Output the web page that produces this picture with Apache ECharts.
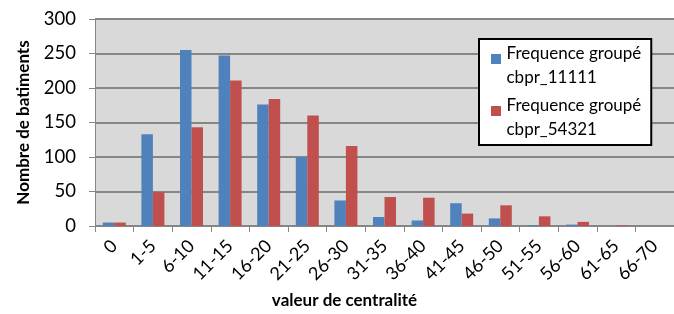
<!DOCTYPE html>
<html>
<head>
<meta charset="utf-8">
<script src="https://cdn.jsdelivr.net/npm/echarts@6/dist/echarts.min.js"></script>
<style>
html,body{margin:0;padding:0;background:#fff;}
#chart{width:674px;height:314px;}
</style>
</head>
<body>
<div id="chart"></div>
<script>
// classes de centralite
var categories = ['0', '1-5', '6-10', '11-15', '16-20', '21-25', '26-30', '31-35',
  '36-40', '41-45', '46-50', '51-55', '56-60', '61-65', '66-70'];
var freq11111 = [5, 133, 255, 247, 176, 100, 37, 13, 8, 33, 11, 1, 2, 0, 0];
var freq54321 = [5, 49, 143, 211, 184, 160, 116, 42, 41, 18, 30, 14, 6, 1, 0];
var yTicks = [0, 50, 100, 150, 200, 250, 300];

var nom1 = 'Frequence groupé cbpr_11111';
var nom2 = 'Frequence groupé cbpr_54321';
var police = 'Lato';

var chartDom = document.getElementById('chart');
var myChart = echarts.init(chartDom);
var option = {
  animation: false,
  textStyle: { fontFamily: police },
  grid: {
    left: 95, top: 19, right: -11, bottom: 85,
    show: true, backgroundColor: '#d9d9d9', borderWidth: 0
  },
  legend: {
    orient: 'vertical',
    left: 479, top: 39,
    padding: [3, 10, 3, 12],
    backgroundColor: '#fff',
    borderColor: '#000', borderWidth: 2,
    itemWidth: 11, itemHeight: 24, itemGap: 4,
    icon: 'path://M0,0L10,0L10,10L0,10Z M0,24L0.01,24L0.01,24.01Z',
    formatter: function (name) {
      return name.replace(' cbpr', '\ncbpr');
    },
    textStyle: { fontFamily: police, fontSize: 17, lineHeight: 24, color: '#000' }
  },
  xAxis: {
    type: 'category',
    data: categories,
    name: 'valeur de centralité',
    nameLocation: 'middle',
    nameGap: 66,
    nameTextStyle: { fontFamily: police, fontSize: 17, fontWeight: 'bold', color: '#000', padding: [0, 80, 0, 0] },
    axisLine: { lineStyle: { color: '#868686', width: 1 } },
    axisTick: { show: true, length: 6, lineStyle: { color: '#868686' } },
    axisLabel: { rotate: 45, margin: 17, fontSize: 18, color: '#000', interval: 0 }
  },
  yAxis: {
    type: 'value',
    min: yTicks[0], max: yTicks[yTicks.length - 1], interval: 50,
    name: 'Nombre de batiments',
    nameLocation: 'middle',
    nameGap: 63,
    nameTextStyle: { fontFamily: police, fontSize: 17, fontWeight: 'bold', color: '#000' },
    axisLine: { show: true, lineStyle: { color: '#868686', width: 1 } },
    axisTick: { show: true, length: 6, lineStyle: { color: '#868686' } },
    axisLabel: { margin: 19, fontSize: 18.5, color: '#000' },
    splitLine: { show: true, lineStyle: { color: '#868686', width: 2 } }
  },
  series: [
    {
      name: nom1, type: 'bar', data: freq11111,
      barWidth: 11.5, barGap: '0%',
      itemStyle: { color: '#4f81bd' }
    },
    {
      name: nom2, type: 'bar', data: freq54321,
      barWidth: 11.5, barGap: '0%',
      itemStyle: { color: '#c0504d' }
    }
  ]
};
myChart.setOption(option);
</script>
</body>
</html>
